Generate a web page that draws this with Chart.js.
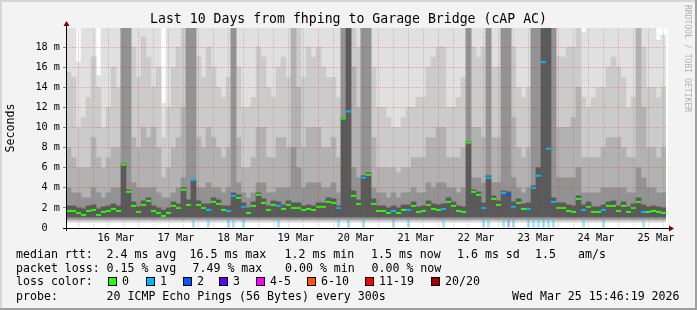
<!DOCTYPE html>
<html>
<head>
<meta charset="utf-8">
<title>Last 10 Days from fhping to Garage Bridge (cAP AC)</title>
<script src="https://cdn.jsdelivr.net/npm/chart.js@4.4.1/dist/chart.umd.min.js"></script>
<style>
  html, body { margin: 0; padding: 0; background: #f3f3f3; }
  #wrap { position: relative; width: 697px; height: 310px; font-family: 'DejaVu Sans Mono', monospace; color: #000; }
  #wrap canvas { position: absolute; left: 0; top: 0; }
  .title { position: absolute; left: 0; top: 11px; width: 697px; text-align: center; font-size: 13.2px; line-height: 16px; white-space: pre; }
  .vert { position: absolute; left: 683px; top: 5px; writing-mode: vertical-rl; font-size: 8.1px; line-height: 10px; color: #b0b0b0; white-space: pre; }
  .t { position: absolute; font-size: 11.6px; line-height: 14px; white-space: pre; }
  .sw { position: absolute; top: 277px; width: 7px; height: 7px; border: 1px solid #000; }
</style>
</head>
<body>
<div id="wrap">
  <canvas id="smokeChart" width="697" height="310"></canvas>
  <div class="title">Last 10 Days from fhping to Garage Bridge (cAP AC)</div>
  <div class="vert">RRDTOOL / TOBI OETIKER</div>

  <div class="t" style="left:16px;top:247px">median rtt:</div>
  <div class="t" style="left:106.5px;top:247px">2.4 ms avg</div>
  <div class="t" style="left:189.5px;top:247px">16.5 ms max</div>
  <div class="t" style="left:284.5px;top:247px">1.2 ms min</div>
  <div class="t" style="left:371px;top:247px">1.5 ms now</div>
  <div class="t" style="left:457px;top:247px">1.6 ms sd</div>
  <div class="t" style="left:535px;top:247px">1.5</div>
  <div class="t" style="left:578px;top:247px">am/s</div>

  <div class="t" style="left:16px;top:260.5px">packet loss:</div>
  <div class="t" style="left:106.5px;top:260.5px">0.15 % avg</div>
  <div class="t" style="left:192.5px;top:260.5px">7.49 % max</div>
  <div class="t" style="left:285px;top:260.5px">0.00 % min</div>
  <div class="t" style="left:371.5px;top:260.5px">0.00 % now</div>

  <div class="t" style="left:16px;top:274px">loss color:</div>
  <div id="lossLegend"></div>

  <div class="t" style="left:16px;top:288.5px">probe:</div>
  <div class="t" style="left:106.5px;top:288.5px">20 ICMP Echo Pings (56 Bytes) every 300s</div>
  <div class="t" style="left:512px;top:288.5px">Wed Mar 25 15:46:19 2026</div>
</div>
<script>
// 10 days, 2 hour bins, starting Mar 15 16:00
const HOURS = 240;
const BIN = 2;
const FIRST_MIDNIGHT = 8;
const dayLabels = ['16 Mar', '17 Mar', '18 Mar', '19 Mar', '20 Mar', '21 Mar', '22 Mar', '23 Mar', '24 Mar', '25 Mar'];
const yTickValues = [0, 1, 2, 3, 4, 5, 6, 7, 8, 9, 10, 11, 12, 13, 14, 15, 16, 17, 18, 19];

const lossColors = ['#26ff00', '#00b8ff', '#0059ff', '#5e00ff', '#ff00ff', '#ff5500', '#ff0000', '#a10000'];
const lossLabels = ['0', '1', '2', '3', '4-5', '6-10', '11-19', '20/20'];

// median rtt (ms)
const median = [
  1.7,1.7,1.5,1.3,1.7,1.8,1.3,1.6,1.7,1.9,1.7,6.3,3.6,2.2,1.6,2.3,2.7,1.7,1.5,1.2,1.5,2.2,2.0,3.8,2.3,4.8,2.3,2.0,1.8,2.6,
  2.4,1.8,1.7,3.2,3.0,2.1,1.5,2.2,3.3,2.5,1.8,2.3,2.2,1.9,2.3,2.0,2.0,1.8,1.9,1.8,2.1,2.1,2.6,2.5,2.0,10.9,11.6,3.2,2.4,5.0,
  5.3,2.4,1.7,1.7,1.5,1.7,1.5,1.8,1.8,2.2,1.6,1.7,2.3,1.9,1.8,1.9,2.6,2.2,1.7,1.6,8.5,3.6,3.3,2.0,5.0,2.9,2.3,3.5,3.3,2.1,
  2.5,1.9,1.9,4.0,5.2,16.5,7.9,2.6,2.0,2.0,1.7,1.6,2.9,1.8,2.1,1.6,1.6,1.8,2.2,2.2,1.7,2.2,1.6,2.0,2.6,1.6,1.6,1.7,1.6,1.5
];

// lost pings out of 20
const loss = [
  0,0,0,0,0,0,0,0,0,0,0,0,0,0,0,0,0,0,0,0,0,0,0,0,0,1,0,0,1,0,
  0,0,1,1,0,1,0,0,0,0,0,0,1,0,0,0,0,0,0,0,0,0,0,0,1,0,1,0,0,1,
  0,0,0,0,0,1,0,0,1,0,0,0,0,0,0,1,0,0,0,0,0,0,0,1,1,0,0,1,2,1,
  0,0,1,1,1,1,1,1,0,0,0,0,0,1,0,0,0,1,0,0,0,0,0,0,0,1,0,0,0,0
];

// smoke: upper edge of each ping band (ms), outermost first
const smokeTop = [
  20,20,16.5,20,20,20,15.2,20,20,20,20,20,20,20,20,20,20,20,20,12.4,20,20,20,20,20,20,20,20,20,20,
  20,20,20,20,20,20,20,20,20,20,20,20,20,20,20,20,20,20,20,20,20,20,20,20,20,20,20,20,20,20,
  20,20,20,20,20,20,20,20,20,20,20,20,20,20,20,20,20,20,20,20,20,20,20,20,20,20,20,20,20,20,
  20,20,20,20,20,20,20,20,20,20,20,20,20,19.5,20,20,20,20,20,20,20,20,20,20,20,20,20,20,18.7,19.2
];
const smokeHigh = [
  15.5,15,10,11,13,17,14,10,12,16,14,20,20,18,15,19,17,14,16,9,12,16,18,20,20,20,17,15,18,16,
  14,13,15,20,16,12,12,13,18,17,14,13,16,17,15,20,20,15,18,17,18,16,15,15,13,20,20,20,18,20,
  20,16,12,12,11,10,10,11,12,12,13,13,16,17,18,18,12,12,13,15,20,18,17,18,20,16,16,20,20,18,
  14,13,14,20,20,20,20,20,17,17,18,18,20,13,12,13,14,14,16,17,16,15,12,13,20,18,14,14,13,14
];
const smokeMid = [
  8,7,6,6,6,9,7,6,7,8,8,20,20,9,8,10,9,10,8,5,6,8,9,12,20,20,9,8,10,9,
  8,7,8,20,9,6,6,7,10,10,7,7,9,9,8,20,14,8,10,10,10,8,8,9,7,20,20,16,12,20,
  20,9,6,6,6,6,5.5,6,6,7,7,7,9,9,10,10,7,7,7,8,20,10,10,9,20,9,9,20,20,11,
  8,7,8,20,20,20,20,20,10,10,10,11,14,7,7,7,7,8,9,9,9,8,7,7,20,12,8,8,7,8
];
const smokeLow = [
  4,3.5,3.5,3,3,4,3.5,3,3.5,4,4,20,20,4.5,4,4,4,4,3.5,3,3,3.5,4,5,20,20,4,4,4.5,4,
  4,3.5,4,20,4.5,3.5,3,3.5,4.5,4.5,3.5,3.5,4,4,4,8,6,4,4.5,4.5,4.5,4,4,4.5,3.5,20,20,6,5,20,
  20,4,3.5,3.5,3,3.5,3,3.5,3.5,4,3.5,3.5,4.5,4,4.5,4.5,4,4,3.5,4,20,5,5,4.5,20,4.5,4.5,20,20,5,
  4,3.5,4,20,20,20,20,20,5,5,5,5,6,3.5,3.5,3.5,3.5,4,4,4,4,4,3.5,3.5,6,5,4,4,3.5,3.5
];
const smokeCore = [
  2.2,2.2,2,1.9,2.2,2.3,1.9,2.1,2.2,2.4,2.2,6.4,3.8,2.6,2.1,2.7,3,2.2,2,1.8,2,2.6,2.4,4,2.8,4.8,2.7,2.4,2.4,3,
  2.8,2.2,2.2,3.5,3.3,2.5,2,2.6,3.5,2.9,2.2,2.7,2.6,2.3,2.7,2.5,2.5,2.2,2.3,2.2,2.5,2.5,3,2.9,2.2,11,20,3.7,2.8,5.2,
  5.5,2.9,2.2,2.2,2,2.2,2,2.3,2.3,2.6,2.1,2.2,2.7,2.4,2.3,2.4,3,2.6,2.2,2.1,8.6,3.8,3.6,2.5,5.2,3.2,2.7,3.7,3.6,2.6,
  2.9,2.4,2.5,4.2,6,20,20,3,2.5,2.5,2.3,2.2,3.2,2.3,2.6,2.1,2.1,2.3,2.6,2.7,2.2,2.6,2.1,2.4,3,2.3,2.1,2.2,2.1,2
];

document.addEventListener('DOMContentLoaded', () => {
    // loss colour legend boxes
    const swatchX = [108, 146, 183, 219, 256, 307, 365, 431];
    const lossLegend = document.getElementById('lossLegend');
    lossLabels.forEach((label, i) => {
        const box = document.createElement('div');
        box.className = 'sw';
        box.style.left = swatchX[i] + 'px';
        box.style.background = lossColors[i];
        lossLegend.appendChild(box);
        const txt = document.createElement('div');
        txt.className = 't';
        txt.style.left = (swatchX[i] + 14) + 'px';
        txt.style.top = '274px';
        txt.textContent = label;
        lossLegend.appendChild(txt);
    });

    const binX = (i) => i * BIN + BIN / 2;
    const band = (highs, low, color, order) => ({
        type: 'bar',
        data: highs.map((h, i) => ({ x: binX(i), y: [low, h] })),
        backgroundColor: color,
        borderWidth: 0,
        grouped: false,
        barPercentage: 1,
        categoryPercentage: 1,
        order: order
    });

    const lossBars = [];
    loss.forEach((l, i) => { if (l > 0) lossBars.push({ x: binX(i), y: [0.05, 0.8], l: l }); });

    const MAJOR = 'rgba(255, 0, 0, 0.28)';
    const MINOR = 'rgba(110, 110, 110, 0.3)';
    const mono = 'DejaVu Sans Mono';

    const frame = {
        id: 'frame',
        beforeDraw(chart) {
            const { ctx, chartArea: a, width, height } = chart;
            ctx.save();
            ctx.fillStyle = '#f3f3f3';
            ctx.fillRect(0, 0, width, height);
            ctx.fillStyle = '#d6d6d6';
            ctx.fillRect(0, 0, width, 2);
            ctx.fillRect(0, 0, 2, height);
            ctx.fillStyle = '#9f9f9f';
            ctx.fillRect(width - 2, 0, 2, height);
            ctx.fillRect(0, height - 2, width, 2);
            ctx.fillStyle = '#ffffff';
            ctx.fillRect(a.left, a.top, a.right - a.left + 2, a.bottom - a.top);
            ctx.restore();
        },
        afterDraw(chart) {
            const { ctx, chartArea: a } = chart;
            ctx.save();
            ctx.fillStyle = '#000';
            ctx.fillRect(a.left - 3, a.bottom, a.right - a.left + 6, 1);
            ctx.fillRect(a.left, a.top - 3, 1, a.bottom - a.top + 6);
            ctx.fillStyle = '#7f0000';
            ctx.beginPath();
            ctx.moveTo(a.right + 3, a.bottom - 2.5);
            ctx.lineTo(a.right + 8, a.bottom + 0.5);
            ctx.lineTo(a.right + 3, a.bottom + 3.5);
            ctx.closePath();
            ctx.fill();
            ctx.beginPath();
            ctx.moveTo(a.left - 2.5, a.top - 2);
            ctx.lineTo(a.left + 0.5, a.top - 7);
            ctx.lineTo(a.left + 3.5, a.top - 2);
            ctx.closePath();
            ctx.fill();
            ctx.restore();
        }
    };

    const ctx = document.getElementById('smokeChart').getContext('2d');
    new Chart(ctx, {
        type: 'bar',
        data: {
            datasets: [
                {
                    type: 'line',
                    label: 'median rtt',
                    data: median.map((v, i) => ({ x: binX(i), y: v })),
                    showLine: false,
                    pointStyle: 'line',
                    pointRadius: 2.5,
                    pointBorderWidth: 2,
                    pointBorderColor: loss.map(l => lossColors[l]),
                    pointBackgroundColor: loss.map(l => lossColors[l]),
                    order: 0
                },
                {
                    type: 'bar',
                    label: 'loss',
                    data: lossBars,
                    backgroundColor: lossBars.map(p => lossColors[p.l] + '55'),
                    borderWidth: 0,
                    grouped: false,
                    barPercentage: 0.6,
                    categoryPercentage: 1,
                    order: 1
                },
                band(smokeCore, 1.1, '#5a5a5a', 2),
                band(smokeLow, 0.9, '#939393', 3),
                band(smokeMid, 0.8, '#b2b2b2', 4),
                band(smokeHigh, 0.7, '#cbcbcb', 5),
                band(smokeTop, 0.55, '#e0e0e0', 6)
            ]
        },
        options: {
            responsive: false,
            animation: false,
            events: [],
            layout: { padding: { left: 0, right: 31, top: 28, bottom: 62 } },
            plugins: {
                legend: { display: false },
                tooltip: { enabled: false }
            },
            scales: {
                x: {
                    type: 'linear',
                    min: 0,
                    max: HOURS,
                    offset: false,
                    afterBuildTicks: (axis) => {
                        const t = [];
                        for (let h = 2; h < HOURS; h += 6) t.push({ value: h });
                        axis.ticks = t;
                    },
                    afterFit: (axis) => { axis.height = 20; axis.paddingLeft = 0; axis.paddingRight = 0; },
                    grid: {
                        z: 1,
                        drawTicks: false,
                        color: (c) => (c.tick && (c.tick.value - FIRST_MIDNIGHT) % 24 === 0 ? MAJOR : MINOR)
                    },
                    border: { display: false, dash: [1, 1] },
                    ticks: {
                        autoSkip: false,
                        maxRotation: 0,
                        minRotation: 0,
                        padding: 4,
                        color: '#000',
                        font: { family: mono, size: 10.2 },
                        callback: (v) => {
                            const k = (v - FIRST_MIDNIGHT - 12) / 24;
                            return Number.isInteger(k) ? dayLabels[k] : '';
                        }
                    }
                },
                y: {
                    type: 'linear',
                    min: 0,
                    max: 19.9,
                    afterBuildTicks: (axis) => { axis.ticks = yTickValues.map(v => ({ value: v })); },
                    afterFit: (axis) => { axis.width = 66; axis.paddingTop = 0; axis.paddingBottom = 0; },
                    grid: {
                        z: 1,
                        drawTicks: true,
                        tickLength: 3,
                        tickColor: 'rgba(0, 0, 0, 0.45)',
                        color: (c) => (c.tick && c.tick.value % 2 === 0 ? MAJOR : MINOR)
                    },
                    border: { display: false, dash: [1, 1] },
                    title: {
                        display: true,
                        text: 'Seconds',
                        color: '#000',
                        font: { family: mono, size: 11.6 },
                        padding: { top: 4, bottom: 0 }
                    },
                    ticks: {
                        padding: 3,
                        color: '#000',
                        font: { family: mono, size: 10.2 },
                        callback: (v) => (v === 0 ? '0  ' : (v % 2 === 0 ? v + ' m' : ''))
                    }
                }
            }
        },
        plugins: [frame]
    });
});
</script>
</body>
</html>
